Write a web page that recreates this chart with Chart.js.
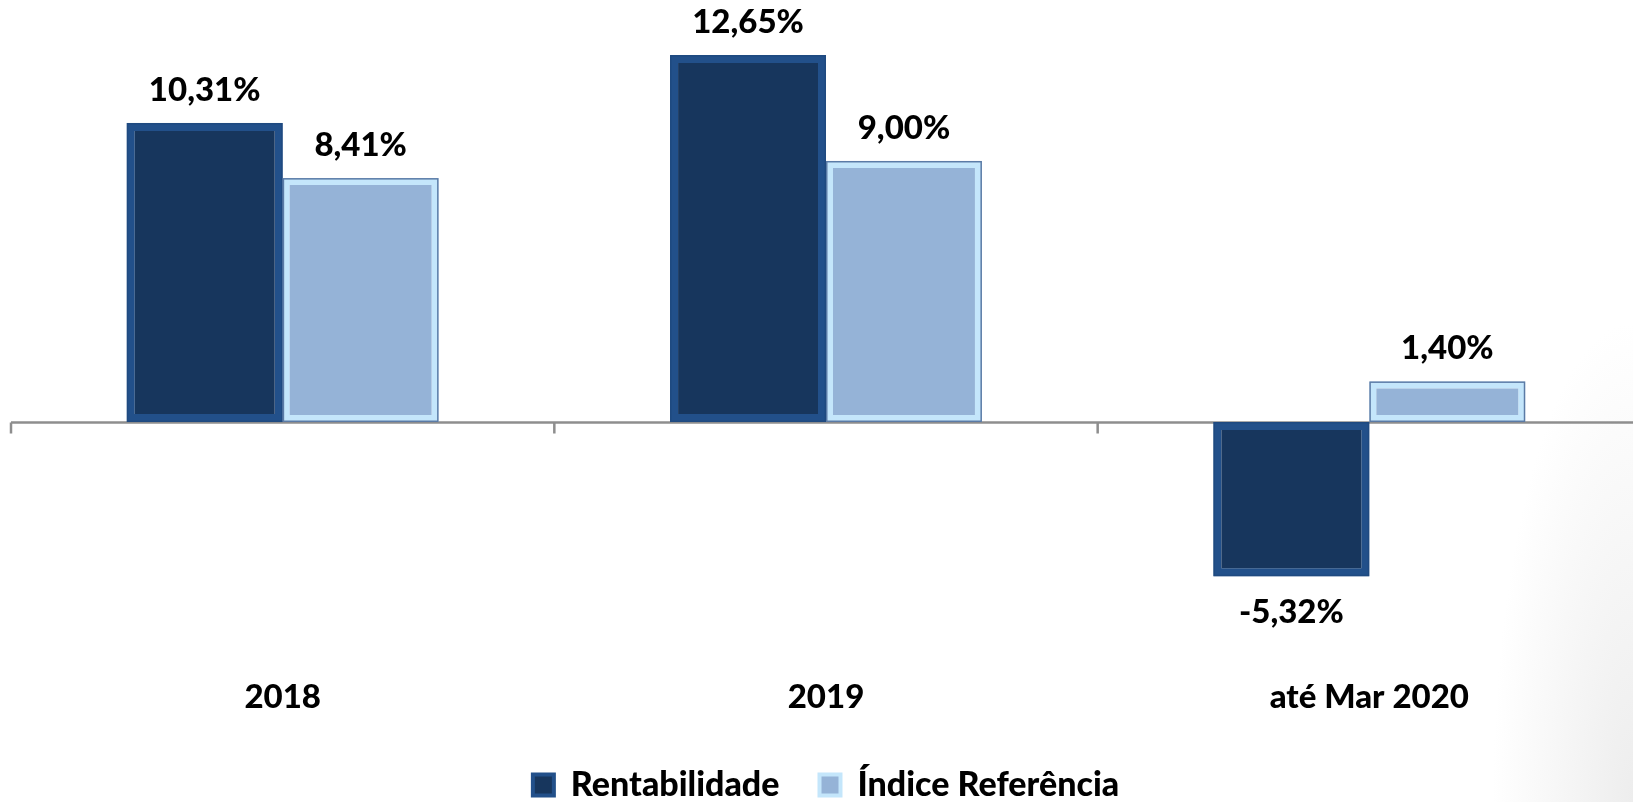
<!DOCTYPE html>
<html>
<head>
<meta charset="utf-8">
<script src="https://cdn.jsdelivr.net/npm/chart.js@4.4.0/dist/chart.umd.min.js"></script>
<style>
  html, body { margin: 0; padding: 0; width: 1633px; height: 802px; overflow: hidden;
    background: radial-gradient(ellipse 140px 480px at 100% 100%, #ededed 0%, #ffffff 100%); }
  #wrap { position: absolute; left: 0; top: 0; width: 1641px; height: 812px; }
</style>
</head>
<body>
<div id="wrap"><canvas id="c"></canvas></div>
<script>
const categories = ['2018', '2019', 'até Mar 2020'];
const seriesNames = ['Rentabilidade', 'Índice Referência'];
const rentabilidade = [10.31, 12.65, -5.32];
const indiceReferencia = [8.41, 9.00, 1.40];

const FONT = 'Lato, "Open Sans", sans-serif';
const WEIGHT = 900;

const fmt = v => v.toFixed(2).replace('.', ',') + '%';

const axisPlugin = {
  id: 'zeroAxis',
  beforeDatasetsDraw(chart) {
    const ctx = chart.ctx, x = chart.scales.x, y = chart.scales.y;
    const y0 = Math.round(y.getPixelForValue(0)) + 0.5;
    const area = chart.chartArea;
    const step = x.getPixelForValue(1) - x.getPixelForValue(0);
    ctx.save();
    ctx.strokeStyle = '#8e8e8e';
    ctx.lineWidth = 2.5;
    ctx.beginPath();
    ctx.moveTo(area.left, y0);
    ctx.lineTo(area.right + 10, y0);
    for (let i = 0; i <= categories.length; i++) {
      const px = x.getPixelForValue(0) - step / 2 + i * step;
      ctx.moveTo(px, y0);
      ctx.lineTo(px, y0 + 11);
    }
    ctx.stroke();
    ctx.restore();
  },
  afterDatasetsDraw(chart) {
    const ctx = chart.ctx;
    ctx.save();
    chart.data.datasets.forEach((ds, di) => {
      const meta = chart.getDatasetMeta(di);
      meta.data.forEach((el, i) => {
        const v = ds.data[i];
        const left = el.x - el.width / 2, right = el.x + el.width / 2;
        const top = Math.min(el.y, el.base), bot = Math.max(el.y, el.base);
        ctx.strokeStyle = ds.outline;
        ctx.lineWidth = 1.5;
        ctx.strokeRect(left + 0.75, top + 0.75, right - left - 1.5, bot - top - 1.5);
        ctx.fillStyle = '#000';
        ctx.font = WEIGHT + ' 33px ' + FONT;
        ctx.textAlign = 'center';
        ctx.textBaseline = 'middle';
        const ly = v >= 0 ? el.y - 33 : el.y + 36;
        ctx.fillText(fmt(v), el.x, ly);
      });
    });
    ctx.restore();
  }
};

new Chart(document.getElementById('c'), {
  type: 'bar',
  data: {
    labels: categories,
    datasets: [
      { label: seriesNames[0], data: rentabilidade, backgroundColor: '#17365d', borderColor: '#22508a',
        borderWidth: 8, borderSkipped: false, outline: '#1f4a80' },
      { label: seriesNames[1], data: indiceReferencia, backgroundColor: '#95b3d7', borderColor: '#c4e6fb',
        borderWidth: 7, borderSkipped: false, outline: '#5b7ba6' }
    ]
  },
  options: {
    responsive: true,
    maintainAspectRatio: false,
    devicePixelRatio: 1,
    animation: false,
    categoryPercentage: 0.574,
    barPercentage: 1.0,
    layout: { padding: { left: 11, right: 0, top: 0, bottom: 0 } },
    scales: {
      x: {
        grid: { display: false },
        border: { display: false },
        ticks: { color: '#000', font: { family: FONT, size: 33, weight: WEIGHT }, padding: 11 }
      },
      y: { display: false, min: -8.15, max: 14.55 }
    },
    plugins: {
      tooltip: { enabled: false },
      legend: {
        position: 'bottom',
        labels: {
          color: '#000',
          font: { family: FONT, size: 34, weight: WEIGHT },
          boxWidth: 21, boxHeight: 21, padding: 40,
          generateLabels(chart) {
            const items = Chart.defaults.plugins.legend.labels.generateLabels(chart);
            items.forEach(it => { it.lineWidth = 4; });
            return items;
          }
        }
      }
    }
  },
  plugins: [axisPlugin]
});
</script>
</body>
</html>
